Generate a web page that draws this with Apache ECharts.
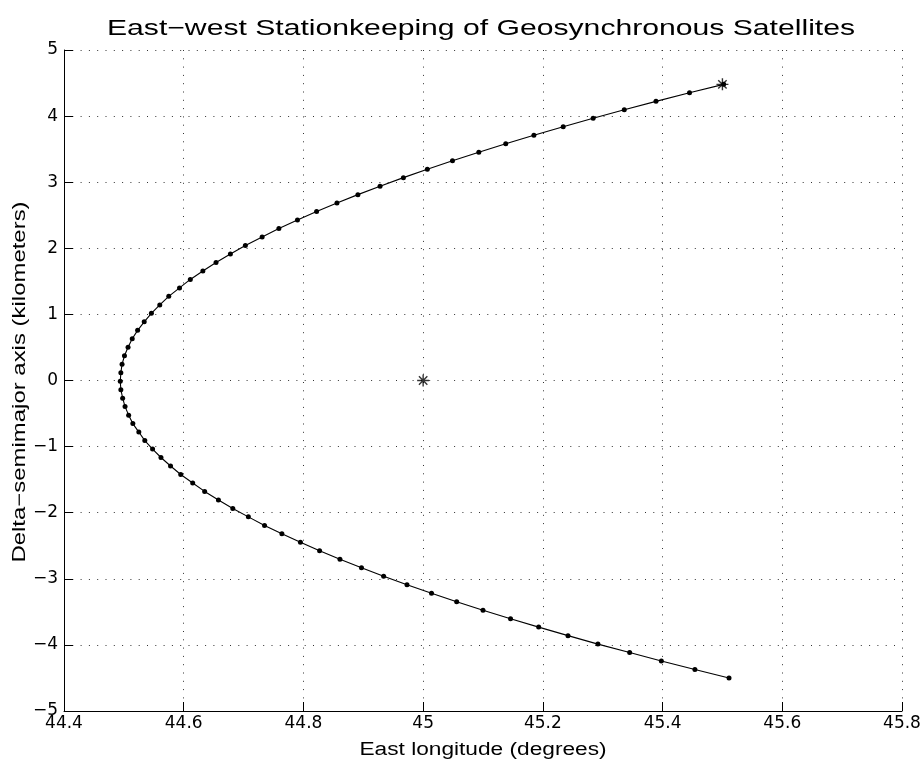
<!DOCTYPE html>
<html lang="en">

<head>
    <meta charset="UTF-8">
    <title>East-west Stationkeeping</title>
    <script type="text/javascript" src="https://cdn.jsdelivr.net/npm/echarts@6/dist/echarts.min.js"></script>
    <style>
        html, body {
            margin: 0;
            padding: 0;
            background: #fff;
        }
        #chart {
            width: 923px;
            height: 763px;
        }
    </style>
</head>

<body>
    <div id="chart"></div>
</body>
<script>
    // east longitude (deg) and delta-semimajor axis (km)
    var lon = [45.502, 45.445, 45.389, 45.336, 45.284, 45.234, 45.185, 45.138, 45.093, 45.049,
        45.007, 44.967, 44.928, 44.891, 44.856, 44.822, 44.790, 44.759, 44.731, 44.703,
        44.678, 44.654, 44.632, 44.611, 44.593, 44.575, 44.560, 44.546, 44.534, 44.523,
        44.514, 44.507, 44.501, 44.497, 44.495, 44.494, 44.495, 44.498, 44.502, 44.508,
        44.515, 44.525, 44.535, 44.548, 44.562, 44.578, 44.595, 44.615, 44.635, 44.658,
        44.682, 44.708, 44.735, 44.764, 44.795, 44.827, 44.861, 44.897, 44.934, 44.973,
        45.014, 45.056, 45.100, 45.146, 45.193, 45.242, 45.292, 45.345, 45.398, 45.454,
        45.511];
    var dsma = [4.480, 4.352, 4.223, 4.095, 3.967, 3.839, 3.710, 3.582, 3.454, 3.325,
        3.197, 3.069, 2.940, 2.812, 2.684, 2.556, 2.427, 2.299, 2.171, 2.042,
        1.914, 1.786, 1.657, 1.529, 1.401, 1.273, 1.144, 1.016, 0.888, 0.759,
        0.631, 0.503, 0.374, 0.246, 0.118, -0.011, -0.139, -0.267, -0.395, -0.524,
        -0.652, -0.780, -0.909, -1.037, -1.165, -1.294, -1.422, -1.550, -1.678, -1.807,
        -1.935, -2.063, -2.192, -2.320, -2.448, -2.577, -2.705, -2.833, -2.961, -3.090,
        -3.218, -3.346, -3.475, -3.603, -3.731, -3.860, -3.988, -4.116, -4.244, -4.373,
        -4.501];

    // the two '*' markers: start of the drift and the station
    var starLon = [45.5, 45.0];
    var starDsma = [4.48, 0];

    var xTicks = ['44.4', '44.6', '44.8', '45', '45.2', '45.4', '45.6', '45.8'];
    var yTicks = ['\u22125', '\u22124', '\u22123', '\u22122', '\u22121', '0', '1', '2', '3', '4', '5'];

    var titleText = 'East\u2212west Stationkeeping of Geosynchronous Satellites';
    var xName = 'East longitude (degrees)';
    var yName = 'Delta\u2212semimajor axis (kilometers)';

    var tickFont = 'DejaVu Sans';
    var textFont = 'Liberation Sans';
    var curve = lon.map(function (v, i) { return [v, dsma[i]]; });
    var stars = starLon.map(function (v, i) { return [v, starDsma[i]]; });

    // matlab '*' marker
    var star = 'path://M5 0L5 10M0 5L10 5M1.5 1.5L8.5 8.5M8.5 1.5L1.5 8.5';
    var dotted = { color: '#333', width: 1, type: [1, 7.3] };

    var myChart = echarts.init(document.getElementById('chart'));
    var option = {
        backgroundColor: '#fff',
        animation: false,
        grid: {
            left: 64,
            right: 21,
            top: 50,
            bottom: 52,
            outerBoundsMode: 'none'
        },
        xAxis: {
            type: 'value',
            min: 44.4,
            max: 45.8,
            interval: 0.2,
            axisLine: { onZero: false, lineStyle: { color: '#000', width: 1 } },
            axisTick: { inside: true, length: 9, lineStyle: { color: '#000' } },
            axisLabel: {
                color: '#000',
                fontFamily: tickFont,
                fontSize: 17,
                margin: 4,
                formatter: function (v) {
                    return xTicks[Math.round((v - 44.4) / 0.2)];
                }
            },
            splitLine: { show: true, lineStyle: dotted }
        },
        yAxis: {
            type: 'value',
            min: -5,
            max: 5,
            interval: 1,
            axisLine: { onZero: false, lineStyle: { color: '#000', width: 1 } },
            axisTick: { inside: true, length: 9, lineStyle: { color: '#000' } },
            axisLabel: {
                color: '#000',
                fontFamily: tickFont,
                fontSize: 17,
                margin: 6,
                formatter: function (v) {
                    return yTicks[Math.round(v + 5)];
                }
            },
            splitLine: { show: true, lineStyle: dotted }
        },
        graphic: {
            elements: [{
                type: 'text',
                x: 481,
                y: 29,
                scaleX: 1.37,
                style: {
                    text: titleText,
                    fontFamily: textFont,
                    fontSize: 22,
                    fill: '#000',
                    align: 'center', textAlign: 'center',
                    verticalAlign: 'middle', textVerticalAlign: 'middle'
                }
            }, {
                type: 'text',
                x: 483,
                y: 750,
                scaleX: 1.26,
                style: {
                    text: xName,
                    fontFamily: textFont,
                    fontSize: 18,
                    fill: '#000',
                    align: 'center', textAlign: 'center',
                    verticalAlign: 'middle', textVerticalAlign: 'middle'
                }
            }, {
                type: 'text',
                x: 20,
                y: 382,
                rotation: Math.PI / 2,
                scaleX: 1.33,
                style: {
                    text: yName,
                    fontFamily: textFont,
                    fontSize: 18,
                    fill: '#000',
                    align: 'center', textAlign: 'center',
                    verticalAlign: 'middle', textVerticalAlign: 'middle'
                }
            }]
        },
        series: [{
            type: 'line',
            data: curve,
            symbol: 'circle',
            symbolSize: 5,
            showSymbol: true,
            lineStyle: { color: '#000', width: 1.1 },
            itemStyle: { color: '#000' },
            z: 3
        }, {
            type: 'scatter',
            data: stars,
            symbol: star,
            symbolSize: 12,
            itemStyle: { color: 'none', borderColor: '#000', borderWidth: 1.4 },
            z: 4
        }]
    };
    myChart.setOption(option, true);
</script>

</html>
